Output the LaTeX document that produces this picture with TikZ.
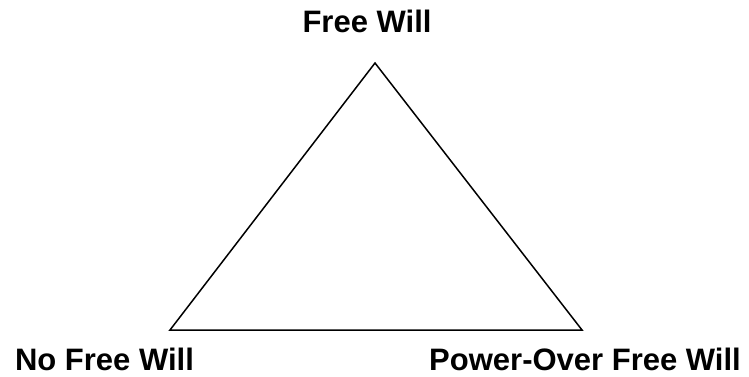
\documentclass[tikz,border=0pt]{standalone}
\usepackage{fontspec}
\setmainfont{Liberation Sans}
\begin{document}
\begin{tikzpicture}[x=1pt,y=-1pt,
  lbl/.style={font=\fontsize{31}{36}\selectfont\bfseries, inner sep=0pt, anchor=base},
  edge/.style={draw=black, line width=1.5pt, line join=miter}]
\useasboundingbox (0,0) rectangle (749,377);
\coordinate (top) at (375,63);
\coordinate (bl) at (170,330);
\coordinate (br) at (582,330);
\draw[edge] (top) -- (bl) -- (br) -- cycle;
\node[lbl] (fw) at (367,33) {Free Will};
\node[lbl] (nfw) at (104.5,370) {No Free Will};
\node[lbl] (pofw) at (585,370) {Power-Over Free Will};
\end{tikzpicture}
\end{document}
